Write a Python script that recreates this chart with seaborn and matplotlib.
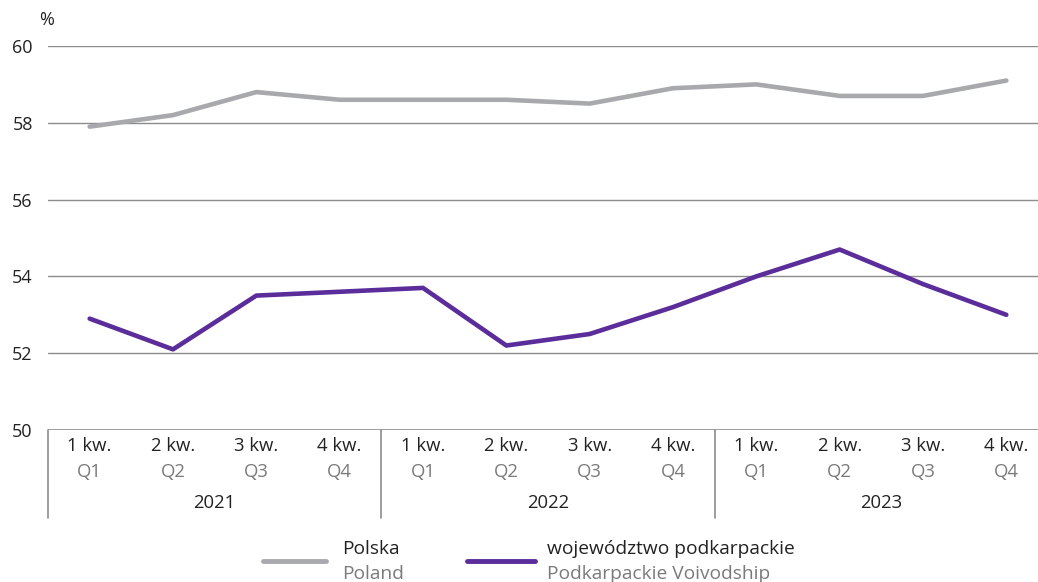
import matplotlib
matplotlib.use("Agg")
import matplotlib.pyplot as plt
from matplotlib.lines import Line2D
import seaborn as sns
import pandas as pd
import numpy as np

quarters_pl = ["1 kw.", "2 kw.", "3 kw.", "4 kw."]
quarters_en = ["Q1", "Q2", "Q3", "Q4"]
years = ["2021", "2022", "2023"]

polska = [57.9, 58.2, 58.8, 58.6, 58.6, 58.6, 58.5, 58.9, 59.0, 58.7, 58.7, 59.1]
podkarpackie = [52.9, 52.1, 53.5, 53.6, 53.7, 52.2, 52.5, 53.2, 54.0, 54.7, 53.8, 53.0]

series_names = ["Polska", "województwo podkarpackie"]
series_names_en = ["Poland", "Podkarpackie Voivodship"]
colors = ["#a7a9ac", "#5b2d9a"]

sns.set_theme(style="white")
plt.rcParams['font.family'] = ['Open Sans', 'DejaVu Sans']

n = len(polska)
idx = np.arange(n)
df = pd.DataFrame({
    "x": np.concatenate([idx, idx]),
    "value": polska + podkarpackie,
    "series": [series_names[0]] * n + [series_names[1]] * n,
})

fig = plt.figure(figsize=(10.38, 5.82), dpi=100)
W, H = 1038, 582
ax_left, ax_right = 48, 1048
ax_top, ax_bottom = 46, 430
ax = fig.add_axes([ax_left / W, 1 - ax_bottom / H, (ax_right - ax_left) / W, (ax_bottom - ax_top) / H])

sns.lineplot(data=df, x="x", y="value", hue="series", palette=colors,
             linewidth=3.3, ax=ax, legend=False, solid_capstyle="round")

ax.set_xlim(-0.5, n - 0.5)
ax.set_ylim(50, 60)
ax.set_yticks([50, 52, 54, 56, 58, 60])
for yv in [52, 54, 56, 58, 60]:
    ax.axhline(yv, color="#8c8c8c", lw=1.0, zorder=0)
ax.axhline(50, color="#8c8c8c", lw=1.2, zorder=0)
for s in ax.spines.values():
    s.set_visible(False)
ax.set_xticks([])
ax.set_xlabel("")
ax.set_ylabel("")
ax.tick_params(axis="y", length=0, pad=11, labelsize=13, labelcolor="#222222")
for lab in ax.get_yticklabels():
    lab.set_horizontalalignment("right")

fig.text(39 / W, 1 - 20 / H, "%", fontsize=13, color="#222222", ha="left", va="center")

tr = ax.get_xaxis_transform()
def yfrac(pix):
    return (ax_bottom - pix) / (ax_bottom - ax_top)

for i in range(n):
    ax.text(i, yfrac(446), quarters_pl[i % 4], transform=tr, ha="center", va="center",
            fontsize=13.3, color="#222222", clip_on=False)
    ax.text(i, yfrac(472), quarters_en[i % 4], transform=tr, ha="center", va="center",
            fontsize=13.3, color="#7a7a7a", clip_on=False)
for k, yr in enumerate(years):
    ax.text(4 * k + 1.5, yfrac(503), yr, transform=tr, ha="center", va="center",
            fontsize=13.3, color="#222222", clip_on=False)
for b in [-0.5, 3.5, 7.5, 11.5]:
    ax.add_artist(Line2D([b, b], [yfrac(430), yfrac(518)], transform=tr, color="#8c8c8c",
                         lw=1.2, clip_on=False))

# legend
legend_items = [(263, 326, 342), (467, 535, 547)]
for (x0, x1, tx), name, name_en, c in zip(legend_items, series_names, series_names_en, colors):
    fig.add_artist(Line2D([x0 / W, x1 / W], [1 - 561 / H, 1 - 561 / H], transform=fig.transFigure,
                          color=c, lw=3.5, solid_capstyle="round"))
    fig.text(tx / W, 1 - 549 / H, name, fontsize=13.8, color="#222222", ha="left", va="center")
    fig.text(tx / W, 1 - 574 / H, name_en, fontsize=13.8, color="#7a7a7a", ha="left", va="center")

fig.savefig("out.png", dpi=100)
